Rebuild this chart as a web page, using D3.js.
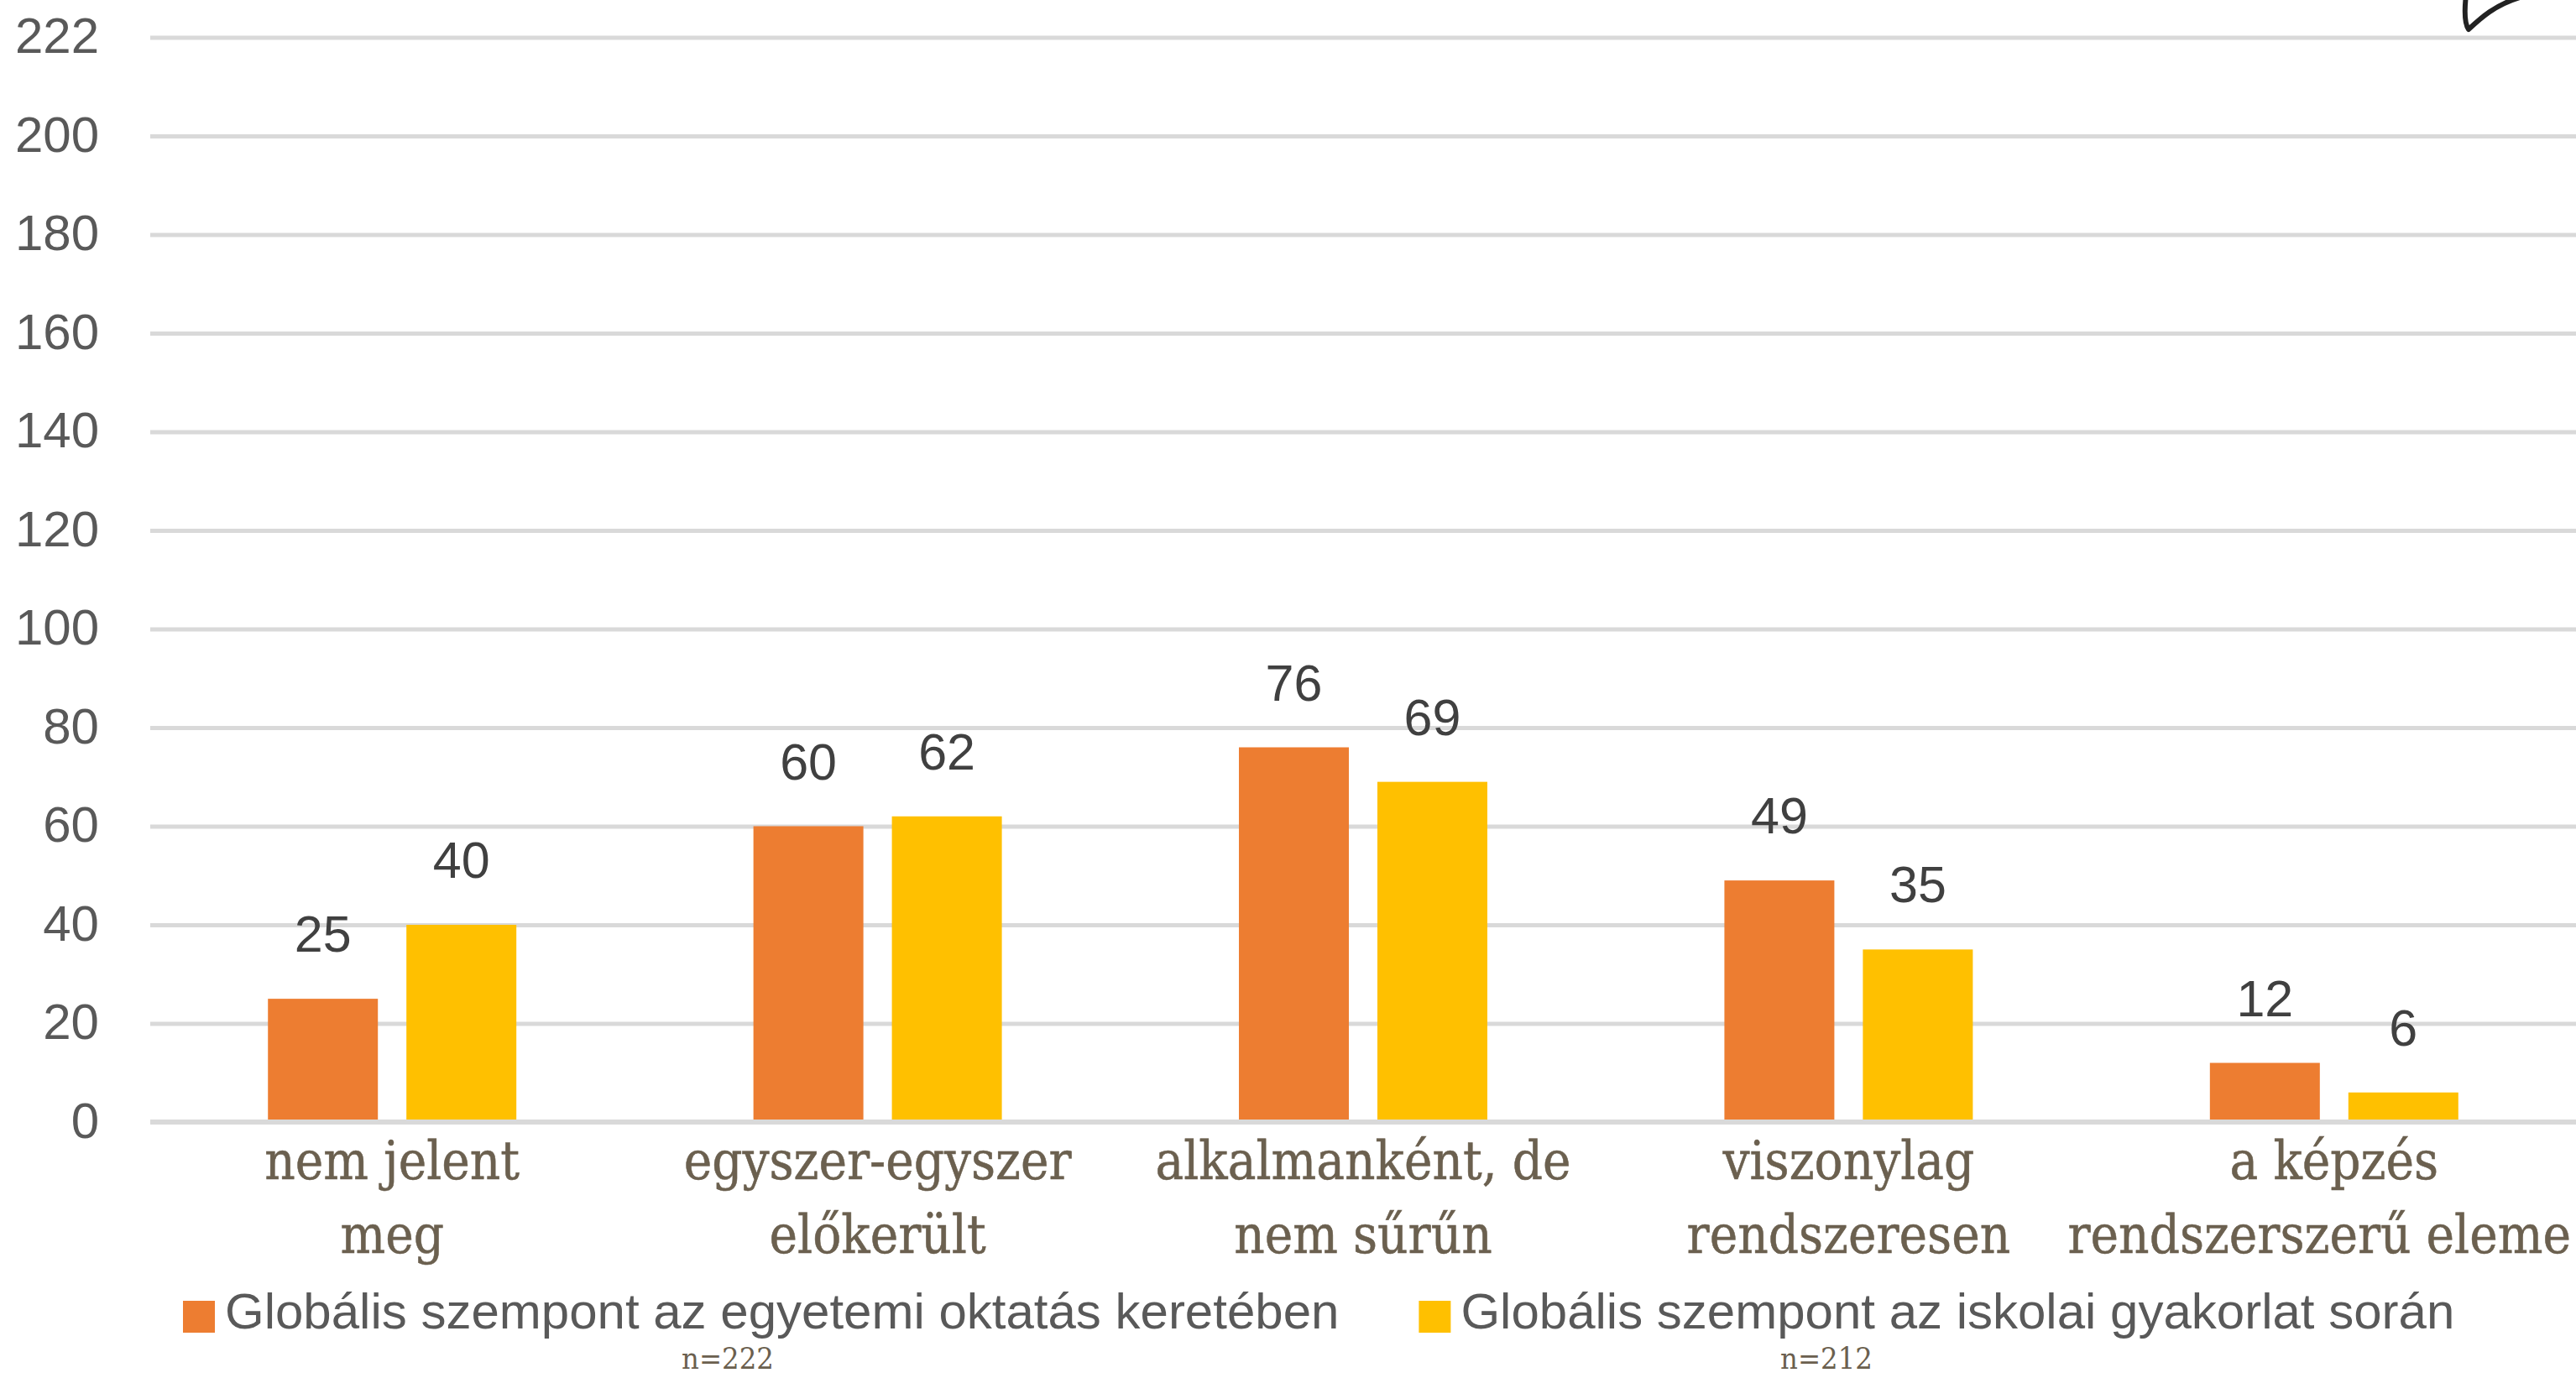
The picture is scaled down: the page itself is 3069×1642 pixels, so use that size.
<!DOCTYPE html>
<html>
<head>
<meta charset="utf-8">
<script src="https://cdn.jsdelivr.net/npm/d3@7/dist/d3.min.js"></script>
<style>
  html, body { margin: 0; padding: 0; background: #ffffff; }
  svg { display: block; }
</style>
</head>
<body>
<script>
// ---------- data ----------
const categories = [
  "nem jelent meg",
  "egyszer-egyszer előkerült",
  "alkalmanként, de nem sűrűn",
  "viszonylag rendszeresen",
  "a képzés rendszerszerű eleme"
];
const categoryLines = [
  ["nem jelent", "meg"],
  ["egyszer-egyszer", "előkerült"],
  ["alkalmanként, de", "nem sűrűn"],
  ["viszonylag", "rendszeresen"],
  ["a képzés", "rendszerszerű eleme"]
];
const seriesNames = [
  "Globális szempont az egyetemi oktatás keretében",
  "Globális szempont az iskolai gyakorlat során"
];
const universityValues = [25, 60, 76, 49, 12];
const schoolValues = [40, 62, 69, 35, 6];
const sampleSizes = ["n=222", "n=212"];
const yTickValues = [0, 20, 40, 60, 80, 100, 120, 140, 160, 180, 200, 220];
const yTickLabels = ["0", "20", "40", "60", "80", "100", "120", "140", "160", "180", "200", "222"];
const seriesColors = ["#ED7D31", "#FFC000"];

// ---------- layout ----------
const W = 3069, H = 1642;
const plotLeft = 178, plotRight = 3070, plotTop = 44.5, plotBottom = 1337;

const svg = d3.select("body").append("svg")
  .attr("width", W).attr("height", H)
  .style("background", "#ffffff");

const x0 = d3.scaleBand().domain(categories).range([plotLeft, plotRight]).paddingInner(0).paddingOuter(0);
const x1 = d3.scaleBand().domain(seriesNames).range([0, x0.bandwidth()]).paddingInner(0.206).paddingOuter(0.856);
const y = d3.scaleLinear().domain([0, 220]).range([plotBottom, plotTop]);

// gridlines + y labels
const yAxis = d3.axisLeft(y)
  .tickValues(yTickValues)
  .tickFormat((d, i) => yTickLabels[i])
  .tickSize(-(W - 179))
  .tickPadding(61);

const gy = svg.append("g").attr("transform", "translate(179,0)").call(yAxis);
gy.select(".domain").remove();
gy.selectAll(".tick line").attr("stroke", "#d9d9d9").attr("stroke-width", 5);
gy.selectAll(".tick text")
  .attr("fill", "#595959")
  .style("font-family", "'Liberation Sans', Arial, sans-serif")
  .style("font-size", "60px")
  .attr("dy", "0.3em");

// bars
const rows = categories.map((c, i) => ({ cat: c, vals: [universityValues[i], schoolValues[i]] }));
const groups = svg.append("g").selectAll("g").data(rows).join("g")
  .attr("transform", d => `translate(${x0(d.cat)},0)`);

groups.selectAll("rect").data(d => d.vals.map((v, j) => ({ v, s: seriesNames[j], j })))
  .join("rect")
  .attr("x", d => x1(d.s))
  .attr("width", x1.bandwidth())
  .attr("y", d => y(d.v))
  .attr("height", d => y(0) - y(d.v))
  .attr("fill", d => seriesColors[d.j]);

// baseline on top
svg.append("line")
  .attr("x1", 179).attr("x2", W)
  .attr("y1", y(0)).attr("y2", y(0))
  .attr("stroke", "#d9d9d9").attr("stroke-width", 6);

// data labels
groups.selectAll("text.val").data(d => d.vals.map((v, j) => ({ v, s: seriesNames[j], j })))
  .join("text")
  .attr("class", "val")
  .attr("x", d => x1(d.s) + x1.bandwidth() / 2)
  .attr("y", d => y(d.v) - 56)
  .attr("text-anchor", "middle")
  .attr("fill", "#404040")
  .style("font-family", "'Liberation Sans', Arial, sans-serif")
  .style("font-size", "61px")
  .text(d => d.v);

// category labels
const catFont = "'DejaVu Serif Condensed', 'DejaVu Serif', serif";
categories.forEach((c, i) => {
  const cx = x0(c) + x0.bandwidth() / 2;
  const t = svg.append("text")
    .attr("text-anchor", "middle")
    .attr("fill", "#6B604F")
    .attr("stroke", "#6B604F")
    .attr("stroke-width", 0.5)
    .style("font-family", catFont)
    .style("font-stretch", "condensed")
    .style("font-size", "63px");
  const spans = categoryLines[i].map((line, k) =>
    t.append("tspan")
      .attr("x", cx)
      .attr("y", 1405 + k * 88)
      .text(line));
  // keep lines inside the picture
  spans.forEach(sp => {
    const w = sp.node().getComputedTextLength();
    let px = cx;
    if (px + w / 2 > W - 6) px = W - 6 - w / 2;
    sp.attr("x", px);
  });
});

// legend
const legend = svg.append("g");
let lx = 218;
seriesNames.forEach((s, j) => {
  legend.append("rect")
    .attr("x", lx).attr("y", 1550)
    .attr("width", 38).attr("height", 38)
    .attr("fill", seriesColors[j]);
  const tx = legend.append("text")
    .attr("x", lx + 50).attr("y", 1583)
    .attr("fill", "#595959")
    .style("font-family", "'Liberation Sans', Arial, sans-serif")
    .style("font-size", "60px")
    .text(s);
  const w = tx.node().getComputedTextLength();
  lx = lx + 50 + w + 95;
});

// sample sizes
const nX = [867, 2176];
sampleSizes.forEach((n, j) => {
  svg.append("text")
    .attr("x", nX[j]).attr("y", 1631)
    .attr("text-anchor", "middle")
    .attr("fill", "#6B604F")
    .style("font-family", catFont)
    .style("font-stretch", "condensed")
    .style("font-size", "36px")
    .text(n);
});

// decorative hook at top right
svg.append("path")
  .attr("d", "M2938,-6 C2936,12 2936,28 2941,35 C2955,22 2972,6 3002,-3")
  .attr("fill", "none")
  .attr("stroke", "#222222")
  .attr("stroke-width", 6)
  .attr("stroke-linecap", "round")
  .attr("stroke-linejoin", "round");
</script>
</body>
</html>
